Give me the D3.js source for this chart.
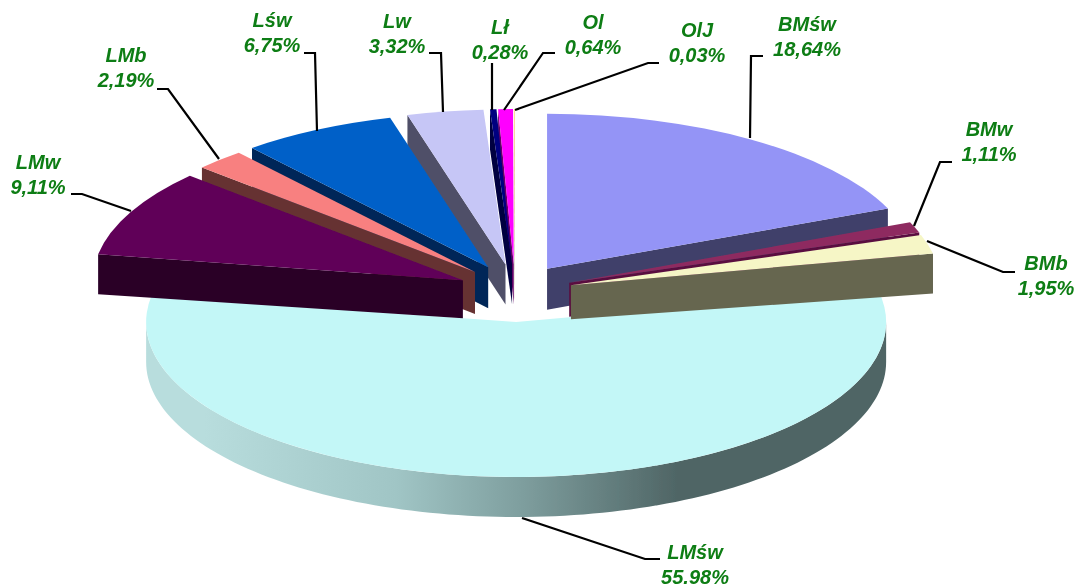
<!DOCTYPE html>
<html><head><meta charset="utf-8">
<script src="https://cdn.jsdelivr.net/npm/d3@7/dist/d3.min.js"></script>
<style>html,body{margin:0;padding:0;background:#fff}svg{display:block}
text{font-family:"Liberation Sans",Arial,sans-serif;font-weight:700;font-style:italic;font-size:20px;fill:#0b7d12}</style>
</head><body><script>
const categories=["BMśw","BMw","BMb","LMśw","LMw","LMb","Lśw","Lw","Lł","Ol","OlJ"];
const values=[18.64,1.11,1.95,55.98,9.11,2.19,6.75,3.32,0.28,0.64,0.03];
const percentLabels=["18,64%","1,11%","1,95%","55.98%","9,11%","2,19%","6,75%","3,32%","0,28%","0,64%","0,03%"];
const topColors=["#9494f6","#8e2c60","#f6f6c6","#c3f7f7","#600058","#f88080","#0060c8","#c6c6f6","#000080","#ff00ff","#ffd060"];
const wallColors=["#40406a","#5a1040","#666650","#506666","#2c0028","#663333","#002858","#505068","#000040","#660066","#665020"];
// painter's order, back to front, as indices into categories
const drawOrder=[3,9,10,8,7,6,5,4,0,1,2];
// label anchors (centre of the two-line block) and leader polylines
const labelPos=[[807,44],[989,149],[1046,283],[695,572],[38,182],[126,75],[272,40],[397,41],[500,47],[593,42],[697,50]];
const leaders=[[[763,56],[751,56],[750,138]],[[952,162],[940,162],[914,226]],[[1015,272],[1003,272],[927,241]],[[660,559],[645,559],[522,518]],[[71,194],[82,194],[131,211]],[[157,89],[168,89],[219,159]],[[304,53],[315,53],[317,131]],[[429,53],[441,53],[443,112]],[[492,63],[492,110]],[[555,53],[543,53],[504,110]],[[659,63],[648,63],[515,110]]];
// wall height at the slice tip (perspective shortens the two thin right-hand slices)
const tipDepths=[41,34,34,40,38,42,41,40,40,40,40];

const W=1076,H=587,cx=515,cy=293,rx=370,ry=155,depth=40,explode=58,explodeK=0.5;
const svg=d3.select("body").append("svg").attr("width",W).attr("height",H).attr("viewBox",`0 0 ${W} ${H}`);
const defs=svg.append("defs");
const grad=defs.append("linearGradient").attr("id","rim").attr("gradientUnits","userSpaceOnUse")
 .attr("x1",cx-rx).attr("x2",cx+rx).attr("y1",0).attr("y2",0);
[[0.08,"#b8dddd"],[0.34,"#a0c5c5"],[0.51,"#7e9e9e"],[0.72,"#4f6565"],[1,"#4f6565"]].forEach(s=>grad.append("stop").attr("offset",s[0]).attr("stop-color",s[1]));
defs.append("filter").attr("id","soft").attr("x","-2%").attr("y","-2%").attr("width","104%").attr("height","104%")
 .append("feGaussianBlur").attr("stdDeviation",0.45);

const slices=d3.pie().sort(null).value(d=>d)(values);
const arc=d3.arc().innerRadius(0).outerRadius(rx);
const line=d3.line();
const root=svg.append("g").attr("filter","url(#soft)");
const g=root.append("g");
function centre(s){const m=(s.startAngle+s.endAngle)/2;return [cx+explode*Math.sin(m),cy-explode*explodeK*Math.cos(m)];}
function pt(c,a){return [c[0]+rx*Math.sin(a),c[1]-ry*Math.cos(a)];}
drawOrder.forEach(i=>{
 const s=slices[i],c=centre(s),m=(s.startAngle+s.endAngle)/2;
 if(i!==3){
  // radial wall: the edge that faces the viewer
  const a=m<Math.PI?s.endAngle:s.startAngle,p=pt(c,a);
  g.append("path").attr("d",line([c,p,[p[0],p[1]+depth],[c[0],c[1]+tipDepths[i]]])+"Z").attr("fill",wallColors[i]);
 } else {
  // outer rim of the front slice
  const a0=Math.max(s.startAngle,Math.PI/2),a1=Math.min(s.endAngle,3*Math.PI/2);
  const ang=d3.range(0,121).map(t=>a0+(a1-a0)*t/120);
  const up=ang.map(a=>pt(c,a)),down=up.map(p=>[p[0],p[1]+depth]).reverse();
  g.append("path").attr("d",line(up.concat(down))+"Z").attr("fill","url(#rim)");
 }
 g.append("path").attr("transform",`translate(${c[0]},${c[1]}) scale(1,${ry/rx})`).attr("d",arc(s)).attr("fill",topColors[i]);
});
const lg=root.append("g").attr("fill","none").attr("stroke","#000").attr("stroke-width",2.2);
leaders.forEach(l=>lg.append("path").attr("d",line(l)));
const tg=root.append("g").attr("text-anchor","middle");
categories.forEach((n,i)=>{
 const p=labelPos[i];
 tg.append("text").attr("x",p[0]).attr("y",p[1]-13).text(n);
 tg.append("text").attr("x",p[0]).attr("y",p[1]+12).text(percentLabels[i]);
});
</script></body></html>
